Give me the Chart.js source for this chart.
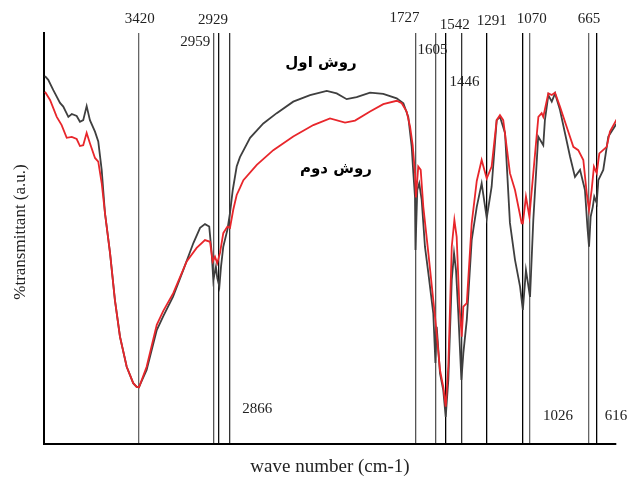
<!DOCTYPE html>
<html>
<head>
<meta charset="utf-8">
<script src="https://cdn.jsdelivr.net/npm/chart.js@4.4.1/dist/chart.umd.min.js"></script>
<style>
  html, body { margin: 0; padding: 0; background: #fff; }
  #wrap { position: relative; width: 628px; height: 484px; }
  .fa {
    position: absolute;
    transform: translate(-50%, -50%);
    font: bold 15px "DejaVu Sans", sans-serif;
    color: #000;
    white-space: nowrap;
    line-height: 1;
  }
</style>
</head>
<body>
<div id="wrap">
  <canvas id="ftir" width="628" height="484"></canvas>
  <span class="fa" id="name1" dir="rtl" style="left:321px; top:62px;"></span>
  <span class="fa" id="name2" dir="rtl" style="left:336px; top:168px;"></span>
</div>
<script>
// sample 1 (black) - wave number / transmittance
const wn1 = [3994,3974,3943,3902,3882,3851,3830,3800,3780,3760,3739,3719,3688,3668,3647,3627,3596,3566,3535,3494,
    3454,3433,3419,3413,3372,3310,3270,3211,3148,3086,3045,3015,2989,2974,2964,2948,2940,2927,2917,2903,
    2878,2862,2845,2821,2801,2739,2658,2576,2475,2372,2270,2209,2148,2087,2005,1924,1842,1801,1771,1750,
    1740,1730,1727,1716,1704,1689,1669,1648,1618,1605,1597,1577,1557,1542,1526,1505,1491,1479,1465,1446,
    1434,1413,1383,1352,1322,1291,1261,1230,1210,1179,1149,1118,1087,1070,1051,1026,1006,976,945,935,
    914,893,873,843,812,781,751,720,690,675,665,655,642,633,618,608,578,547,496];
const t1 = [89.5,88.6,86.1,83.0,82.1,79.6,80.3,79.8,78.4,78.8,82.2,78.8,76.0,73.6,66.7,56.2,46.5,35.0,26.1,18.8,
    14.8,13.9,13.8,14.4,18.0,27.7,31.1,35.8,42.3,48.9,52.6,53.5,52.9,46.5,39.9,43.1,40.4,38.3,43.1,48.0,
    52.1,56.2,61.8,67.5,69.8,74.5,78.0,80.5,83.3,84.9,85.9,85.3,83.9,84.4,85.5,85.2,84.1,82.9,79.6,72.3,
    65.9,60.2,47.2,61.8,63.4,59.4,48.0,41.5,31.8,19.7,28.5,17.2,13.1,6.6,15.6,39.9,46.4,42.3,31.9,15.6,
    22.1,30.2,49.6,57.7,63.4,55.0,62.6,78.8,79.6,75.7,53.8,44.8,38.3,32.6,42.3,35.8,54.5,74.8,72.7,78.8,
    84.9,83.3,85.3,81.3,75.6,69.9,65.0,66.7,61.8,52.9,48.0,55.3,57.7,60.2,58.6,64.2,66.7,74.8,78.0];

// sample 2 (red)
const wn2 = [3994,3963,3922,3892,3861,3830,3800,3780,3760,3739,3719,3688,3668,3647,3627,3596,3566,3535,3494,3454,
    3433,3419,3413,3372,3310,3270,3209,3127,3066,3015,2984,2968,2954,2940,2923,2903,2878,2862,2842,2821,
    2801,2780,2698,2597,2475,2352,2250,2158,2097,2005,1924,1842,1811,1781,1760,1744,1730,1724,1710,1695,
    1679,1648,1618,1601,1577,1557,1542,1526,1505,1489,1475,1459,1444,1434,1413,1383,1352,1322,1291,1261,
    1230,1210,1190,1169,1149,1118,1077,1070,1051,1030,1006,975,955,945,914,893,873,843,802,761,
    731,700,679,665,649,635,618,602,557,537,496];
const t2 = [85.7,83.7,79.6,77.6,74.5,74.7,74.2,72.5,72.7,75.7,73.2,69.6,68.7,63.5,56.2,46.5,35.0,26.1,18.8,14.8,
    13.9,13.8,14.4,18.8,29.0,32.4,36.7,44.4,47.7,49.6,49.2,44.4,45.6,44.0,46.5,51.3,52.9,52.6,57.0,60.6,
    62.3,64.2,67.9,71.5,74.8,77.6,79.2,78.2,78.7,80.9,82.7,83.5,82.9,80.9,77.2,72.7,65.9,60.0,67.5,66.7,
    57.7,46.4,35.0,28.5,18.0,13.9,9.1,18.8,48.0,54.5,50.4,34.3,26.1,33.4,34.3,53.7,64.0,69.1,64.6,67.5,
    78.8,80.0,78.8,72.3,65.9,61.8,53.7,53.7,60.2,55.3,65.9,79.6,80.5,79.6,85.3,84.9,85.5,82.1,77.2,72.3,
    71.5,69.1,61.0,56.9,61.8,67.5,65.9,70.7,72.3,76.0,79.0];

// marked peaks (vertical lines)
const peaks = [3420, 2959, 2929, 2866, 1727, 1605, 1542, 1446, 1291, 1070, 1026, 665, 616];
const seriesNames = ['روش اول', 'روش دوم'];

// where each peak label sits: [dx from line, y]
const peakLabelPos = {
    3420: [1, 19], 2959: [-19, 42], 2929: [-6, 20], 2866: [28, 409],
    1727: [-11, 18], 1605: [-3, 50], 1542: [9, 25], 1446: [3, 82],
    1291: [5, 21], 1070: [9, 19], 1026: [28, 416], 665: [0, 19], 616: [19, 416]
};
const peakLineColor = {
    3420: '#666', 2959: '#555', 2929: '#111', 2866: '#333', 1727: '#555', 1605: '#555',
    1542: '#000', 1446: '#333', 1291: '#000', 1070: '#000', 1026: '#666', 665: '#666', 616: '#000'
};

document.getElementById('name1').textContent = seriesNames[0];
document.getElementById('name2').textContent = seriesNames[1];

function toPoints(xs, ys){
    return xs.map(function(x, i){ return {x: x, y: ys[i]}; });
}

const textPlugin = {
    id: 'ftirText',
    afterDraw: function(chart){
        const ctx = chart.ctx;
        const xs = chart.scales.x;
        ctx.save();
        ctx.fillStyle = '#222';
        ctx.textAlign = 'center';
        ctx.textBaseline = 'middle';
        ctx.font = '15px "Liberation Serif"';
        peaks.forEach(function(p){
            const pos = peakLabelPos[p];
            ctx.fillText(String(p), xs.getPixelForValue(p) + pos[0], pos[1]);
        });

        // axis titles
        ctx.font = '19px "Liberation Serif"';
        ctx.fillText('wave number (cm-1)', 330, 467);
        ctx.translate(21, 232);
        ctx.rotate(-Math.PI / 2);
        ctx.font = '17px "Liberation Serif"';
        ctx.fillText('%transmittant (a.u.)', 0, 0);
        ctx.restore();
    }
};

new Chart(document.getElementById('ftir'), {
    type: 'line',
    data: {
        datasets: [
            {
                label: seriesNames[0],
                data: toPoints(wn1, t1),
                borderColor: '#3f3f3f',
                borderWidth: 1.8,
                pointRadius: 0,
                tension: 0,
                order: 1
            },
            {
                label: seriesNames[1],
                data: toPoints(wn2, t2),
                borderColor: '#e8262b',
                borderWidth: 1.8,
                pointRadius: 0,
                tension: 0,
                order: 0
            }
        ]
    },
    options: {
        responsive: false,
        animation: false,
        layout: { padding: { left: 44, top: 33, right: 12, bottom: 40 } },
        plugins: { legend: { display: false }, tooltip: { enabled: false } },
        scales: {
            x: {
                type: 'linear',
                reverse: true,
                min: 500,
                max: 4000,
                afterBuildTicks: function(scale){
                    scale.ticks = peaks.map(function(v){ return {value: v}; });
                },
                ticks: { display: false },
                grid: {
                    display: true,
                    drawTicks: false,
                    lineWidth: 1.3,
                    color: function(c){ return c.tick ? peakLineColor[c.tick.value] : '#000'; }
                },
                border: { display: true, color: '#000', width: 2 }
            },
            y: {
                min: 0,
                max: 100,
                ticks: { display: false },
                grid: { display: false, drawTicks: false },
                border: { display: true, color: '#000', width: 2 }
            }
        }
    },
    plugins: [textPlugin]
});
</script>
</body>
</html>
